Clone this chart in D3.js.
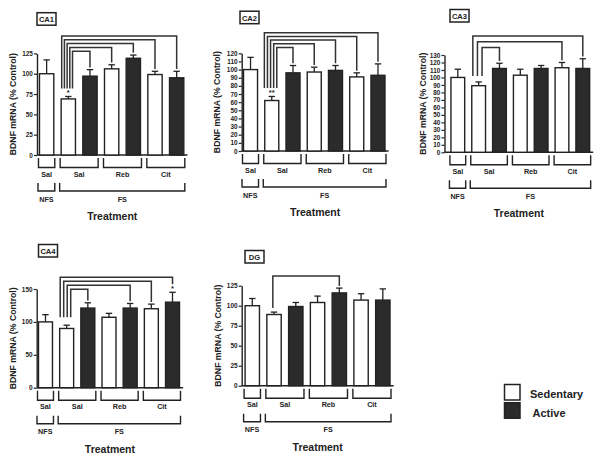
<!DOCTYPE html>
<html><head><meta charset="utf-8">
<script src="https://cdn.jsdelivr.net/npm/d3@7"></script>
<style>
body{margin:0;background:#fff}
svg{display:block}
text{font-family:"Liberation Sans",Arial,Helvetica,sans-serif;font-weight:bold;fill:#222}
</style>
</head><body>
<svg id="chart" width="602" height="458"></svg>
<script>
// ---- shared categories ----
const barCondition = ["Sedentary","Sedentary","Active","Sedentary","Active","Sedentary","Active"];
const drugLabels = ["Sal","Sal","Reb","Cit"];
const drugFirst = [0,1,3,5];
const drugLast  = [0,2,4,6];
const stressLabels = ["NFS","FS"];
const stressFirst = [0,1];
const stressLast  = [0,6];
const legendLabels = ["Sedentary","Active"];
const xTitle = "Treatment";
const yTitle = "BDNF mRNA (% Control)";
const refBar = 1; // FS-Sal Sedentary, origin of all comparison brackets

// ---- CA1 ----
const ca1Mean = [100, 69, 97, 106, 119, 99, 95];
const ca1Sem  = [17, 3, 8, 5, 4, 4, 8];
const ca1Ticks = [0,25,50,75,100,125];
const ca1Targets = [6,5,4,3,2];
const ca1Stars = ["","*","","","","",""];
// ---- CA2 ----
const ca2Mean = [100, 62, 96, 97, 99, 91, 93];
const ca2Sem  = [15, 5, 9, 6, 6, 5, 14];
const ca2Ticks = [0,10,20,30,40,50,60,70,80,90,100,110,120];
const ca2Targets = [6,5,4,3,2];
const ca2Stars = ["","**","","","","",""];
// ---- CA3 ----
const ca3Mean = [100, 89, 112, 103, 112, 113, 112];
const ca3Sem  = [11, 5, 7, 8, 4, 7, 13];
const ca3Ticks = [0,10,20,30,40,50,60,70,80,90,100,110,120,130];
const ca3Targets = [6,5,2];
const ca3Stars = ["","","","","","",""];
// ---- CA4 ----
const ca4Mean = [100, 90, 121, 107, 121, 120, 130];
const ca4Sem  = [11, 5, 8, 6, 7, 7, 15];
const ca4Ticks = [0,50,100,150];
const ca4Targets = [6,5,4,2];
const ca4Stars = ["","","","","","","*"];
// ---- DG ----
const dgMean = [100, 89, 99, 104, 116, 107, 107];
const dgSem  = [9, 3, 5, 8, 6, 8, 14];
const dgTicks = [0,25,50,75,100,125];
const dgTargets = [4];
const dgStars = ["","","","","","",""];

// ---- layout (positions only) ----
const panels = [
  {name:"CA1", mean:ca1Mean, sem:ca1Sem, ticks:ca1Ticks, targets:ca1Targets, stars:ca1Stars,
   axisX:37, baseY:155, topY:53.4, xRange:[35.8,187.5], labelX:13,
   box:[37,12.7], brTop:36, brGap:3.8, brSpread:2.7, leftGap:8},
  {name:"CA2", mean:ca2Mean, sem:ca2Sem, ticks:ca2Ticks, targets:ca2Targets, stars:ca2Stars,
   axisX:241.7, baseY:151, topY:53.3, xRange:[239.9,388.6], labelX:216.7,
   box:[240,11.2], brTop:32.7, brGap:3.7, brSpread:3.1, leftGap:8.5},
  {name:"CA3", mean:ca3Mean, sem:ca3Sem, ticks:ca3Ticks, targets:ca3Targets, stars:ca3Stars,
   axisX:444.5, baseY:152.3, topY:55, xRange:[447.4,593.2], labelX:423.3,
   box:[450,9.5], brTop:36, brGap:5.8, brSpread:4.6, leftGap:6},
  {name:"CA4", mean:ca4Mean, sem:ca4Sem, ticks:ca4Ticks, targets:ca4Targets, stars:ca4Stars,
   axisX:36.7, baseY:387.7, topY:289, xRange:[34.9,183.1], labelX:13.3,
   box:[38.5,244.5], brTop:277.3, brGap:4, brSpread:3.5, leftGap:8},
  {name:"DG", mean:dgMean, sem:dgSem, ticks:dgTicks, targets:dgTargets, stars:dgStars,
   axisX:241.7, baseY:385.7, topY:285.7, xRange:[241.4,393.7], labelX:218.3,
   box:[245,250.5], brTop:276, brGap:4, brSpread:3, leftGap:4}
];

const INK = "#222";
const DARK = "#2b2b2b";
const svg = d3.select("#chart");

function bracket(g, x1, x2, yTop, yBot) {
  g.append("path")
    .attr("d", `M${x1},${yTop}V${yBot}H${x2}V${yTop}`)
    .attr("fill","none").attr("stroke",INK).attr("stroke-width",1.4);
}

function drawPanel(p) {
  const g = svg.append("g");
  const y = d3.scaleLinear().domain([0, d3.max(p.ticks)]).range([p.baseY, p.topY]);
  const x = d3.scaleBand().domain(d3.range(p.mean.length)).range(p.xRange)
    .paddingInner(0.34).paddingOuter(0.17);
  const bw = x.bandwidth();
  const cx = i => x(i) + bw / 2;

  // y axis
  const ax = g.append("g").attr("transform", `translate(${p.axisX},0)`)
    .call(d3.axisLeft(y).tickValues(p.ticks).tickSize(3).tickSizeOuter(0).tickPadding(1.2).tickFormat(d3.format("d")));
  ax.attr("font-family", null).attr("font-size", null);
  ax.select(".domain").attr("stroke", INK).attr("stroke-width", 1.4);
  ax.selectAll(".tick line").attr("stroke", INK).attr("stroke-width", 1.2);
  ax.selectAll(".tick text").attr("font-size", 6.4).attr("fill", INK);

  // x axis line
  g.append("line").attr("x1", p.axisX).attr("x2", p.xRange[1])
    .attr("y1", p.baseY).attr("y2", p.baseY).attr("stroke", INK).attr("stroke-width", 1.4);

  // error bars
  const eg = g.append("g").attr("stroke", INK).attr("stroke-width", 1.3);
  p.mean.forEach((m, i) => {
    const top = y(m + p.sem[i]);
    eg.append("line").attr("x1", cx(i)).attr("x2", cx(i)).attr("y1", y(m)).attr("y2", top);
    eg.append("line").attr("x1", cx(i) - 3.2).attr("x2", cx(i) + 3.2).attr("y1", top).attr("y2", top);
  });

  // bars
  g.append("g").selectAll("rect").data(p.mean).join("rect")
    .attr("x", (d, i) => x(i)).attr("width", bw)
    .attr("y", d => y(d)).attr("height", d => p.baseY - y(d))
    .attr("fill", (d, i) => barCondition[i] === "Active" ? DARK : "#fff")
    .attr("stroke", INK).attr("stroke-width", 1.4);

  // comparison brackets from the FS-Sal sedentary bar
  const n = p.targets.length;
  const refTop = y(p.mean[refBar] + p.sem[refBar]) - p.leftGap;
  p.targets.forEach((t, k) => {
    const lvl = p.brTop + k * (n > 1 ? p.brGap : 0);
    const lx = cx(refBar) - 1.2 - (n - 1) / 2 * p.brSpread + k * p.brSpread;
    const rBottom = y(p.mean[t] + p.sem[t]) - (p.stars[t] ? 8 : 2.2);
    g.append("path").attr("d", `M${lx},${refTop}V${lvl}H${cx(t)}V${rBottom}`)
      .attr("fill", "none").attr("stroke", "#333").attr("stroke-width", 1.5);
  });

  // significance stars
  p.stars.forEach((s, i) => {
    if (!s) return;
    g.append("text").attr("x", cx(i)).attr("y", y(p.mean[i] + p.sem[i]) - 1.2)
      .attr("text-anchor", "middle").attr("font-size", 7.5).text(s);
  });

  // category brackets
  drugLabels.forEach((lab, j) => {
    const x1 = x(drugFirst[j]) - 1, x2 = x(drugLast[j]) + bw + 1;
    bracket(g, x1, x2, p.baseY + 3, p.baseY + 12.5);
    g.append("text").attr("x", (x1 + x2) / 2).attr("y", p.baseY + 21.5)
      .attr("text-anchor", "middle").attr("font-size", 7.2).text(lab);
  });
  stressLabels.forEach((lab, j) => {
    const x1 = x(stressFirst[j]) - 1.5, x2 = x(stressLast[j]) + bw + 1;
    bracket(g, x1, x2, p.baseY + 28, p.baseY + 36);
    g.append("text").attr("x", (x1 + x2) / 2).attr("y", p.baseY + 46.6)
      .attr("text-anchor", "middle").attr("font-size", 7.2).text(lab);
  });

  // axis titles
  g.append("text").attr("x", (p.axisX + p.xRange[1]) / 2).attr("y", p.baseY + 64.8)
    .attr("text-anchor", "middle").attr("font-size", 10.5).text(xTitle);
  g.append("text")
    .attr("transform", `translate(${p.labelX},${(p.baseY + p.topY) / 2}) rotate(-90)`)
    .attr("text-anchor", "middle").attr("dominant-baseline", "central")
    .attr("font-size", 8.7).text(yTitle);

  // panel title box
  g.append("rect").attr("x", p.box[0]).attr("y", p.box[1]).attr("width", 19).attr("height", 12.5)
    .attr("fill", "#fff").attr("stroke", INK).attr("stroke-width", 1.5);
  g.append("text").attr("x", p.box[0] + 9.5).attr("y", p.box[1] + 9.3)
    .attr("text-anchor", "middle").attr("font-size", 7.6).text(p.name);
}

panels.forEach(drawPanel);

// legend
const lg = svg.append("g");
legendLabels.forEach((lab, i) => {
  lg.append("rect").attr("x", 504.5).attr("y", 384.5 + i * 18.2).attr("width", 15.5).attr("height", 15.5)
    .attr("fill", lab === "Active" ? DARK : "#fff").attr("stroke", INK).attr("stroke-width", 1.5);
  lg.append("text").attr("x", 530 + i * 2.5).attr("y", 394 + i * 19.3)
    .attr("dominant-baseline", "central").attr("font-size", 11).text(lab);
});
</script>
</body></html>
